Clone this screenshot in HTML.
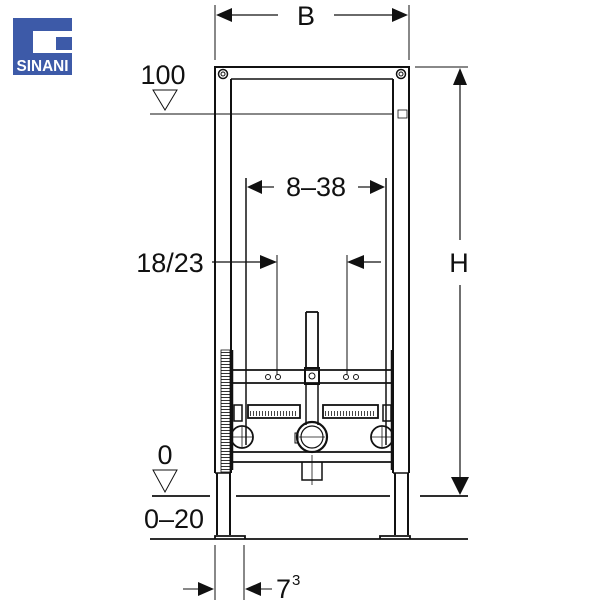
<!DOCTYPE html>
<html><head><style>
body{margin:0;background:#fff}
svg{display:block}
text{font-family:"Liberation Sans",sans-serif;fill:#111}
</style></head><body>
<svg width="600" height="600" viewBox="0 0 600 600" xmlns="http://www.w3.org/2000/svg">
<defs>
<pattern id="rk" width="8" height="3" patternUnits="userSpaceOnUse"><rect width="8" height="3" fill="#fff"/><line x1="0" y1="1.5" x2="8" y2="1.5" stroke="#333" stroke-width="1"/></pattern>
<pattern id="rk2" width="3" height="6" patternUnits="userSpaceOnUse"><rect width="3" height="6" fill="#fff"/><line x1="1.5" y1="0" x2="1.5" y2="6" stroke="#444" stroke-width="1"/></pattern>
</defs>
<rect x="13" y="18" width="59" height="57" fill="#3d5aa8"/>
<rect x="33" y="31" width="39" height="22" fill="#fff"/>
<rect x="56" y="37" width="16" height="13" fill="#3d5aa8"/>
<text x="42.5" y="71" font-size="16" font-weight="bold" text-anchor="middle" style="fill:#fff" textLength="52" lengthAdjust="spacingAndGlyphs">SINANI</text>

<g stroke="#111" fill="none">
<line x1="215" y1="5" x2="215" y2="60" stroke-width="1"/>
<line x1="409" y1="5" x2="409" y2="60" stroke-width="1"/>
<line x1="230" y1="15" x2="278" y2="15" stroke-width="1.2"/>
<line x1="334" y1="15" x2="395" y2="15" stroke-width="1.2"/>
<line x1="415" y1="67" x2="468" y2="67" stroke-width="1"/>
<line x1="460" y1="80" x2="460" y2="240" stroke-width="1.2"/>
<line x1="460" y1="285" x2="460" y2="482" stroke-width="1.2"/>
<line x1="150" y1="114" x2="392" y2="114" stroke-width="1"/>
<rect x="398" y="110" width="9" height="8" stroke-width="0.8"/>
<line x1="214" y1="67" x2="410" y2="67" stroke-width="2"/>
<line x1="215" y1="67" x2="215" y2="473" stroke-width="2"/>
<line x1="231" y1="79" x2="231" y2="473" stroke-width="2"/>
<line x1="393" y1="79" x2="393" y2="473" stroke-width="2"/>
<line x1="409" y1="67" x2="409" y2="473" stroke-width="2"/>
<line x1="231" y1="79" x2="393" y2="79" stroke-width="1.5"/>
<line x1="215" y1="473" x2="231" y2="473" stroke-width="1.5"/>
<line x1="393" y1="473" x2="409" y2="473" stroke-width="1.5"/>
<circle cx="223" cy="74" r="4.5" stroke-width="1.5"/>
<circle cx="223" cy="74" r="2" stroke-width="1"/>
<circle cx="401" cy="74" r="4.5" stroke-width="1.5"/>
<circle cx="401" cy="74" r="2" stroke-width="1"/>
<line x1="217" y1="473" x2="217" y2="535" stroke-width="2"/>
<line x1="230" y1="473" x2="230" y2="535" stroke-width="2"/>
<path d="M215 539 V536 H245 V539" stroke-width="1.8"/>
<line x1="395" y1="473" x2="395" y2="535" stroke-width="2"/>
<line x1="408" y1="473" x2="408" y2="535" stroke-width="2"/>
<path d="M380 539 V536 H410 V539" stroke-width="1.8"/>
<line x1="152" y1="496" x2="210" y2="496" stroke-width="1.8"/>
<line x1="236" y1="496" x2="390" y2="496" stroke-width="1.8"/>
<line x1="420" y1="496" x2="468" y2="496" stroke-width="1.8"/>
<line x1="150" y1="539" x2="468" y2="539" stroke-width="1.8"/>
<line x1="215" y1="545" x2="215" y2="600" stroke-width="1"/>
<line x1="244" y1="545" x2="244" y2="600" stroke-width="1"/>
<line x1="183" y1="589" x2="205" y2="589" stroke-width="1"/>
<line x1="254" y1="589" x2="272" y2="589" stroke-width="1"/>
<line x1="246" y1="178" x2="246" y2="445" stroke-width="1.5"/>
<line x1="386" y1="178" x2="386" y2="445" stroke-width="1.5"/>
<line x1="260" y1="187" x2="274" y2="187" stroke-width="1.2"/>
<line x1="358" y1="187" x2="372" y2="187" stroke-width="1.2"/>
<line x1="212" y1="262" x2="262" y2="262" stroke-width="1.2"/>
<line x1="277" y1="255" x2="277" y2="375" stroke-width="1"/>
<line x1="347" y1="255" x2="347" y2="375" stroke-width="1"/>
<line x1="364" y1="262" x2="381" y2="262" stroke-width="1.2"/>
<line x1="231" y1="370" x2="393" y2="370" stroke-width="1.8"/>
<line x1="231" y1="383" x2="393" y2="383" stroke-width="1.8"/>
<circle cx="268" cy="377" r="2.5" stroke-width="1"/><circle cx="278" cy="377" r="2.5" stroke-width="1"/>
<circle cx="346" cy="377" r="2.5" stroke-width="1"/><circle cx="356" cy="377" r="2.5" stroke-width="1"/>
<rect x="305" y="368" width="14" height="16" stroke-width="2"/>
<circle cx="312" cy="376" r="3" stroke-width="1"/>
<line x1="306" y1="312" x2="306" y2="368" stroke-width="1.8"/>
<line x1="318" y1="312" x2="318" y2="368" stroke-width="1.8"/>
<line x1="306" y1="312" x2="318" y2="312" stroke-width="1.8"/>
<line x1="306" y1="384" x2="306" y2="425" stroke-width="1.5"/>
<line x1="318" y1="384" x2="318" y2="425" stroke-width="1.5"/>
<rect x="248" y="405" width="52" height="13" stroke-width="1.8"/>
<rect x="250" y="411" width="48" height="5" fill="url(#rk2)" stroke="none"/>
<rect x="323" y="405" width="55" height="13" stroke-width="1.8"/>
<rect x="325" y="411" width="51" height="5" fill="url(#rk2)" stroke="none"/>
<rect x="234" y="405" width="8" height="16" stroke-width="1.5"/>
<rect x="383" y="405" width="8" height="16" stroke-width="1.5"/>
<circle cx="242" cy="437" r="11" stroke-width="1.8"/>
<circle cx="312" cy="437" r="15" stroke-width="2.2"/>
<circle cx="312" cy="437" r="11" stroke-width="1.2"/>
<circle cx="382" cy="437" r="11" stroke-width="1.8"/>
<line x1="232" y1="437" x2="252" y2="437" stroke-width="0.8"/>
<line x1="242" y1="427" x2="242" y2="447" stroke-width="0.8"/>
<line x1="299" y1="437" x2="325" y2="437" stroke-width="0.8"/>
<line x1="372" y1="437" x2="392" y2="437" stroke-width="0.8"/>
<line x1="382" y1="427" x2="382" y2="447" stroke-width="0.8"/>
<rect x="295" y="433" width="3" height="10" stroke-width="1"/>
<line x1="231" y1="452" x2="393" y2="452" stroke-width="1.8"/>
<line x1="231" y1="462" x2="393" y2="462" stroke-width="1.8"/>
<path d="M302 462 V480 H322 V462" stroke-width="1.5"/>
<line x1="312" y1="455" x2="312" y2="485" stroke-width="0.8"/>
<rect x="221" y="350" width="9" height="122" fill="url(#rk)" stroke-width="0.8"/>
<line x1="232" y1="350" x2="232" y2="470" stroke-width="2.5"/>
<line x1="392" y1="350" x2="392" y2="470" stroke-width="2.5"/>
</g>
<g fill="#111">
<polygon points="216,15 232,8 232,22"/>
<polygon points="408,15 392,8 392,22"/>
<polygon points="460,68 453,85 467,85"/>
<polygon points="460,495 451,477 469,477"/>
<polygon points="247,187 262,180 262,194"/>
<polygon points="385,187 370,180 370,194"/>
<polygon points="277,262 260,255 260,269"/>
<polygon points="347,262 364,255 364,269"/>
<polygon points="214,589 198,582 198,596"/>
<polygon points="245,589 261,582 261,596"/>
</g>
<g stroke="#111" fill="none" stroke-width="1">
<polygon points="153,90 177,90 165,110"/>
<polygon points="153,470 177,470 165,492"/>
</g>
<text x="306" y="25" font-size="27" text-anchor="middle">B</text>
<text x="163" y="84" font-size="27" text-anchor="middle">100</text>
<text x="316" y="196" font-size="27" text-anchor="middle">8–38</text>
<text x="170" y="272" font-size="27" text-anchor="middle">18/23</text>
<text x="459" y="272" font-size="27" text-anchor="middle">H</text>
<text x="165" y="464" font-size="27" text-anchor="middle">0</text>
<text x="174" y="528" font-size="27" text-anchor="middle">0–20</text>
<text x="276" y="598" font-size="27">7</text>
<text x="292" y="585" font-size="15">3</text>
</svg>
</body></html>
